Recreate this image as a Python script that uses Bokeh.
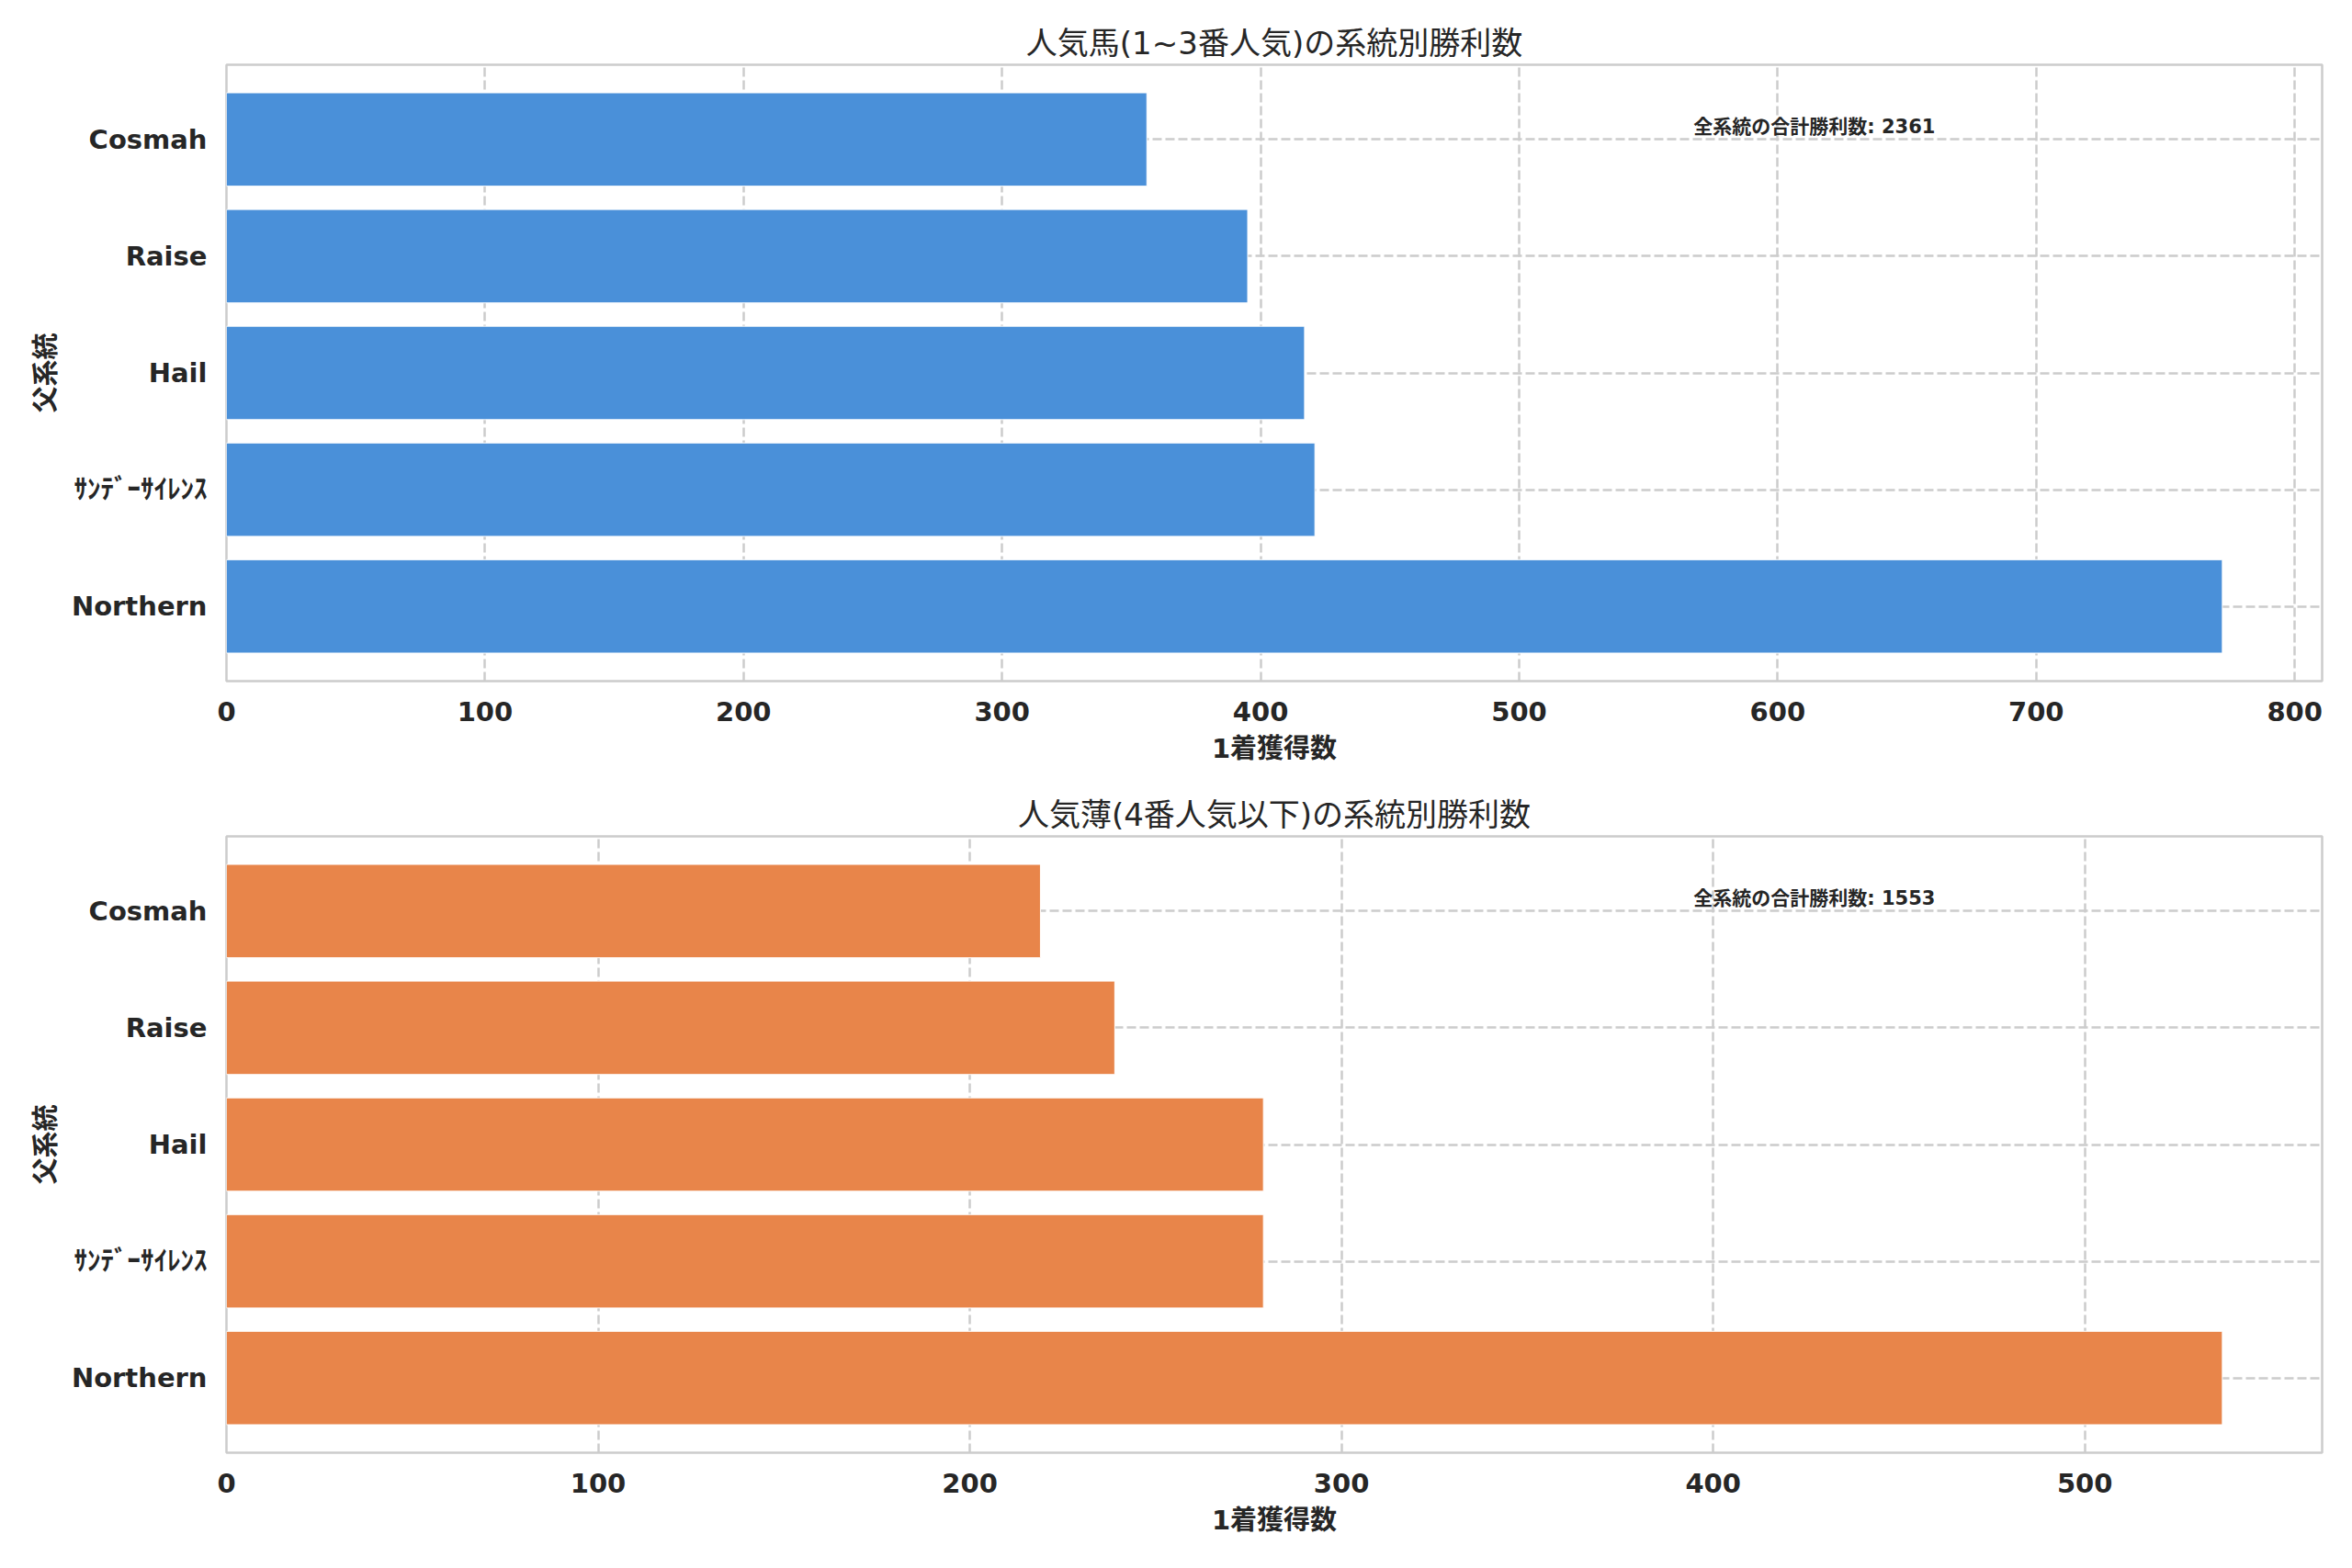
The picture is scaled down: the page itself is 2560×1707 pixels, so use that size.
from bokeh.plotting import figure
from bokeh.models import Range1d, FixedTicker, Label, ColumnDataSource
from bokeh.layouts import column
from bokeh.embed import file_html
from bokeh.resources import INLINE

# ---- data (bottom to top) ----
sires = ["Northern", "ｻﾝﾃﾞｰｻｲﾚﾝｽ", "Hail", "Raise", "Cosmah"]
wins_popular = [772, 421, 417, 395, 356]      # 1~3番人気
wins_longshot = [537, 279, 279, 239, 219]     # 4番人気以下
total_popular = 2361
total_longshot = 1553
title_popular = "人気馬(1~3番人気)の系統別勝利数"
title_longshot = "人気薄(4番人気以下)の系統別勝利数"
x_label = "1着獲得数"
y_label = "父系統"
total_label = "全系統の合計勝利数"
ticks_popular = [0, 100, 200, 300, 400, 500, 600, 700, 800]
ticks_longshot = [0, 100, 200, 300, 400, 500]

FONT = "DejaVu Sans, Noto Sans CJK JP"
TXT = "#262626"
GRID = "#cccccc"


def make_panel(title, vals, total, ticks, color, mb_top, mb_bottom):
    ypos = list(range(len(sires)))
    xend = max(vals) * 1.05
    y0, y1 = -0.64, len(sires) - 1 + 0.64
    p = figure(width=2544, height=845, output_backend="svg", toolbar_location=None,
               x_range=Range1d(0, xend), y_range=Range1d(y0, y1),
               min_border_left=246, min_border_right=17,
               min_border_top=mb_top, min_border_bottom=mb_bottom,
               title=title)
    p.background_fill_color = "white"
    p.border_fill_color = "white"
    p.outline_line_color = GRID
    p.outline_line_width = 2.5

    p.title.align = "center"
    p.title.text_font = FONT
    p.title.text_font_size = "34px"
    p.title.text_font_style = "normal"
    p.title.text_color = TXT
    p.title.standoff = 7

    src = ColumnDataSource(dict(y=ypos, value=vals, name=sires))
    p.hbar(y="y", right="value", left=0, height=0.8, source=src,
           fill_color=color, line_color="white", line_width=1)

    p.xaxis.ticker = FixedTicker(ticks=ticks)
    p.yaxis.ticker = FixedTicker(ticks=ypos)
    p.yaxis.major_label_overrides = {i: s for i, s in zip(ypos, sires)}

    for ax in (p.xaxis, p.yaxis):
        ax.axis_line_color = None
        ax.major_tick_line_color = None
        ax.minor_tick_line_color = None
        ax.major_tick_out = 0
        ax.major_tick_in = 0
        ax.minor_tick_out = 0
        ax.minor_tick_in = 0
        ax.major_label_text_font = FONT
        ax.major_label_text_font_size = "29px"
        ax.major_label_text_font_style = "bold"
        ax.major_label_text_color = TXT
        ax.axis_label_text_font = FONT
        ax.axis_label_text_font_size = "29px"
        ax.axis_label_text_font_style = "bold"
        ax.axis_label_text_color = TXT
    p.xaxis.axis_label = x_label
    p.yaxis.axis_label = y_label
    p.xaxis.major_label_standoff = 22
    p.xaxis.axis_label_standoff = 10
    p.yaxis.major_label_standoff = 21
    p.yaxis.axis_label_standoff = 8

    for g in (p.xgrid, p.ygrid):
        g.grid_line_color = GRID
        g.grid_line_width = 2.5
        g.grid_line_dash = "10 4"

    lab = Label(x=0.7 * xend, y=y0 + 0.9 * (y1 - y0),
                text=f"{total_label}: {total}",
                text_font=FONT, text_font_size="21px", text_font_style="bold",
                text_color=TXT, text_align="left", text_baseline="alphabetic")
    p.add_layout(lab)
    return p


p1 = make_panel(title_popular, wins_popular, total_popular, ticks_popular, "#4a90d9", 70, 104)
p2 = make_panel(title_longshot, wins_longshot, total_longshot, ticks_longshot, "#e8854a", 65, 109)

layout = column(p1, p2, spacing=0)
open("out.html", "w").write(file_html(layout, INLINE))
